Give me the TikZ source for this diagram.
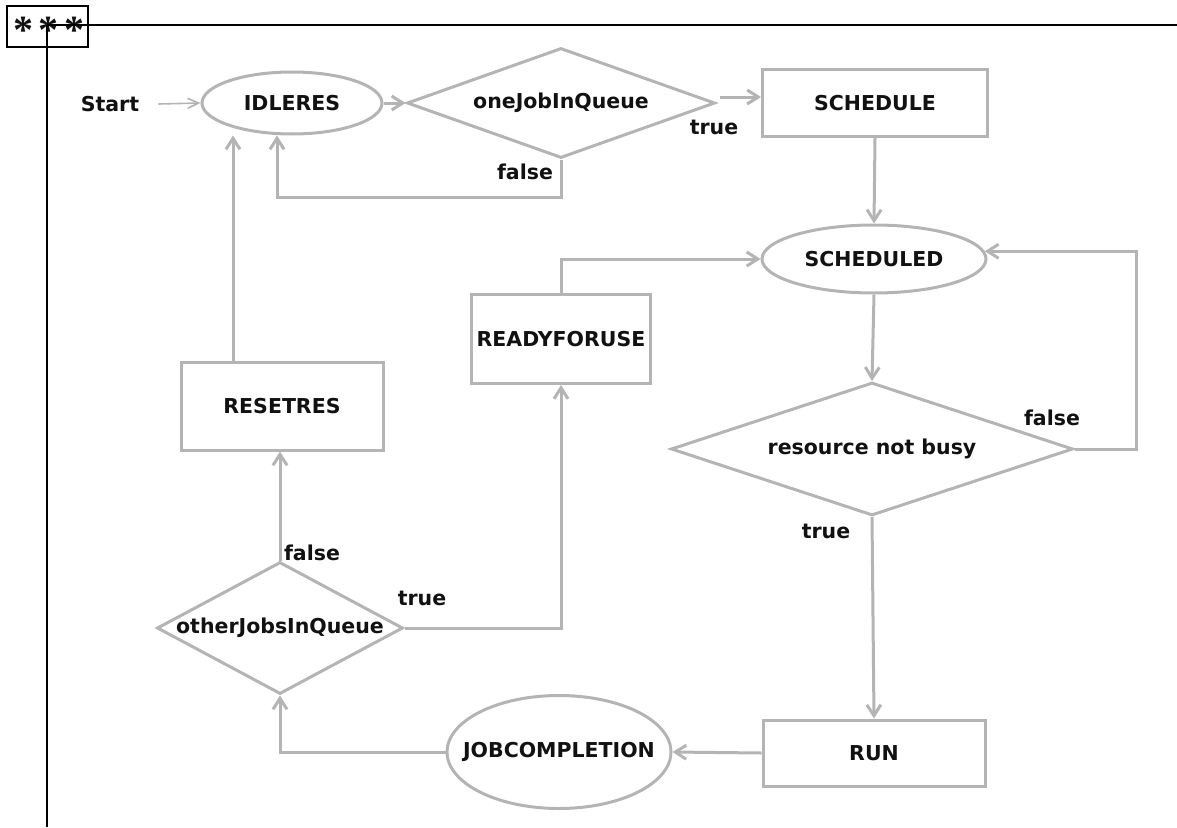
\documentclass[tikz,border=0pt]{standalone}
\usepackage{fontspec}
\setmainfont{DejaVu Sans}
\newfontfamily\starfont{Liberation Serif}
\usetikzlibrary{shapes.geometric,arrows.meta}
\definecolor{flowgray}{RGB}{180,180,180}
\definecolor{inkdark}{RGB}{17,17,17}
\begin{document}
\begin{tikzpicture}[x=1pt,y=-1pt,
  font=\fontsize{20.5}{23}\selectfont\bfseries, text=inkdark,
  shapebox/.style={draw=flowgray, line width=3pt, inner sep=0pt},
  statebox/.style={shapebox, rectangle},
  stateoval/.style={shapebox, ellipse},
  decision/.style={shapebox, diamond},
  flow/.style={draw=flowgray, line width=3pt, -{Straight Barb[length=11pt,width=14pt]}},
  startflow/.style={draw=flowgray, line width=1.6pt, -{Straight Barb[length=11pt,width=10pt]}},
  branch/.style={inner sep=0pt},
]
\useasboundingbox (0,0) rectangle (1177,827);

% corner tag and frame lines
\node[draw=black, line width=2pt, minimum width=81pt, minimum height=41pt, inner sep=0pt] (tag) at (47.5,26.5) {};
\node[font=\starfont\fontsize{40}{40}\selectfont\bfseries, anchor=base, inner sep=0pt] (stars) at (48.5,43) {*\hspace{5.5pt}*\hspace{5.5pt}*};
\coordinate (corner) at (47,25);
\draw[black, line width=2pt] (corner) -- (1177,25);
\draw[black, line width=2pt] (corner) -- (47,827);

% states and decisions
\node[branch] (start) at (110,104) {Start};
\node[stateoval, minimum width=180pt, minimum height=62pt, label=center:IDLERES] (idle) at (292,103) {};
\node[decision, minimum width=308pt, minimum height=110pt, label=center:oneJobInQueue] (q1) at (561,103) {};
\node[statebox, minimum width=225pt, minimum height=67pt] (sched) at (875,103) {SCHEDULE};
\node[stateoval, minimum width=224pt, minimum height=68pt, label=center:SCHEDULED] (scheded) at (874,259) {};
\node[statebox, minimum width=179pt, minimum height=89pt] (ready) at (561,339) {READYFORUSE};
\node[decision, minimum width=402pt, minimum height=133pt, label=center:resource not busy] (q2) at (872,449) {};
\node[statebox, minimum width=222pt, minimum height=66pt] (run) at (874,753) {RUN};
\node[stateoval, minimum width=224pt, minimum height=113pt, label=center:JOBCOMPLETION] (jobc) at (559,752) {};
\node[decision, minimum width=246pt, minimum height=132pt, label=center:otherJobsInQueue] (q3) at (280,628) {};
\node[statebox, minimum width=202pt, minimum height=88pt] (reset) at (282,406) {RESETRES};

% branch labels
\node[branch] (q1false) at (525,172) {false};
\node[branch] (q1true) at (714,127) {true};
\node[branch] (q2false) at (1052,418) {false};
\node[branch] (q2true) at (826,531) {true};
\node[branch] (q3false) at (312,553) {false};
\node[branch] (q3true) at (422,598) {true};

% transitions
\draw[startflow] ([xshift=19pt]start.east) -- (idle.west);
\draw[flow] (idle.east) -- (q1.west);
\draw[flow] (q1.south) -- ++(0,38) -| ([xshift=-15pt]idle.south);
\draw[flow] ([xshift=3pt,yshift=6pt]q1.east) -- ([yshift=6pt]sched.west);
\draw[flow] (sched.south) -- (scheded.north);
\draw[flow] (scheded.south) -- (q2.north);
\draw[flow] (q2.east) -- ++(62,0) |- (scheded.4);
\draw[flow] (q2.south) -- (run.north);
\draw[flow] (run.west) -- (jobc.east);
\draw[flow] (jobc.west) -| (q3.south);
\draw[flow] (q3.north) -- (q3.north |- reset.south);
\draw[flow] (q3.east) -| (ready.south);
\draw[flow] (ready.north) |- (scheded.west);
\draw[flow] ([xshift=-49pt]reset.north) -- ([xshift=-49pt]reset.north |- idle.south);
\end{tikzpicture}
\end{document}
